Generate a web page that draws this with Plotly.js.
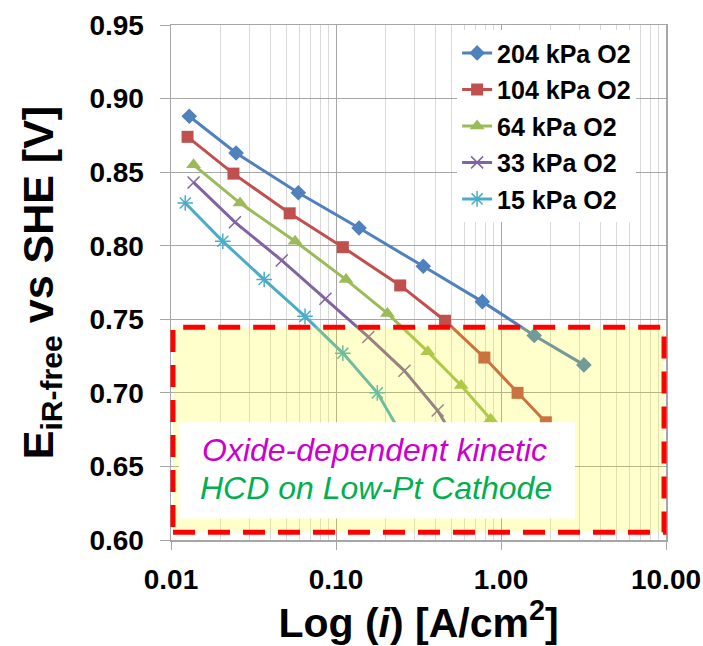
<!DOCTYPE html>
<html>
<head>
<meta charset="utf-8">
<script src="https://cdn.plot.ly/plotly-3.0.1.min.js"></script>
<style>html,body{margin:0;padding:0;background:#fff;}#chart{width:703px;height:646px;}</style>
</head>
<body>
<div id="chart"></div>
<script>
// ---- data ----
const seriesNames = ['204 kPa O2', '104 kPa O2', '64 kPa O2', '33 kPa O2', '15 kPa O2'];

const i204 = [0.0129, 0.0248, 0.0591, 0.138, 0.338, 0.771, 1.59, 3.18];
const e204 = [0.888, 0.863, 0.836, 0.812, 0.786, 0.762, 0.739, 0.719];

const i104 = [0.0126, 0.0239, 0.0524, 0.110, 0.245, 0.458, 0.793, 1.26, 1.87];
const e104 = [0.874, 0.849, 0.822, 0.799, 0.773, 0.749, 0.724, 0.700, 0.680];

const i64 = [0.0137, 0.0262, 0.0565, 0.115, 0.205, 0.360, 0.574, 0.866];
const e64 = [0.855, 0.829, 0.803, 0.777, 0.754, 0.728, 0.705, 0.682];

const i33 = [0.0137, 0.0244, 0.0469, 0.0863, 0.157, 0.260, 0.413, 0.62];
const e33 = [0.843, 0.816, 0.790, 0.764, 0.738, 0.715, 0.688, 0.655];

const i15 = [0.0122, 0.0206, 0.0367, 0.0649, 0.110, 0.178, 0.27];
const e15 = [0.829, 0.803, 0.777, 0.752, 0.727, 0.700, 0.665];

const xTickVals = [0.01, 0.1, 1, 10];
const xTickText = ['0.01', '0.10', '1.00', '10.00'];
const minorDigits = [2, 3, 4, 5, 6, 7, 8, 9];
const decades = [0.01, 0.1, 1];

const noteLine1 = 'Oxide-dependent kinetic';
const noteLine2 = 'HCD on Low-Pt Cathode';

// ---- styling ----
const colors = ['#4F81BD', '#C0504D', '#9BBB59', '#8064A2', '#4BACC6'];
const symbols = ['diamond', 'square', 'triangle-up', 'x-thin-open', 'asterisk-open'];
const sizes = [12, 12, 13, 12, 13];
const xs = [i204, i104, i64, i33, i15];
const ys = [e204, e104, e64, e33, e15];

const minorX = [];
decades.forEach(d => minorDigits.forEach(k => minorX.push(d * k)));

const FONT = 'Liberation Sans, Arial, sans-serif';

const traces = seriesNames.map((n, k) => ({
  x: xs[k], y: ys[k], name: n, type: 'scatter', mode: 'lines+markers',
  legendgroup: 'g' + k,
  line: {color: colors[k], width: 3},
  marker: {symbol: symbols[k], size: sizes[k], color: colors[k],
           line: {color: colors[k], width: (k >= 3 ? 1.5 : 0)}}
}));

const layout = {
  width: 703, height: 646,
  margin: {l: 171, r: 37, t: 25, b: 106},
  paper_bgcolor: '#ffffff', plot_bgcolor: '#ffffff',
  font: {family: FONT, color: '#000'},
  showlegend: true,
  legend: {x: 0.578, y: 0.99, xanchor: 'left', yanchor: 'top', bgcolor: '#ffffff',
           borderwidth: 0, tracegroupgap: 1,
           font: {family: FONT, size: 25, weight: 'bold', color: '#000'}},
  xaxis: {
    type: 'log', range: [-2, 1], tickmode: 'array', tickvals: xTickVals, ticktext: xTickText,
    showgrid: true, gridcolor: '#a6a6a6', gridwidth: 1,
    showline: true, linecolor: '#a6a6a6', linewidth: 1.5, mirror: true,
    ticks: 'outside', ticklen: 8, tickcolor: '#a6a6a6', ticklabelstandoff: 6,
    tickfont: {family: FONT, size: 28, weight: 'bold', color: '#000'},
    minor: {tickmode: 'array', tickvals: minorX, showgrid: true, gridcolor: '#d9d9d9', gridwidth: 1, ticks: ''},
    zeroline: false,
    title: {text: 'Log (<i>i</i>) [A/cm<sup>2</sup>]', standoff: 12,
            font: {family: FONT, size: 41, weight: 'bold', color: '#000'}}
  },
  yaxis: {
    range: [0.6, 0.95], dtick: 0.05, tick0: 0.6, tickformat: '.2f',
    showgrid: true, gridcolor: '#a6a6a6', gridwidth: 1,
    showline: true, linecolor: '#a6a6a6', linewidth: 1.5, mirror: true,
    ticks: 'outside', ticklen: 10, tickcolor: '#a6a6a6', ticklabelstandoff: 10,
    tickfont: {family: FONT, size: 28, weight: 'bold', color: '#000'},
    zeroline: false,
    title: {text: 'E<sub>iR-free</sub> vs SHE [V]', standoff: 22,
            font: {family: FONT, size: 43, weight: 'bold', color: '#000'}}
  },
  shapes: [
    {type: 'rect', layer: 'above', xref: 'paper', yref: 'y',
     x0: 0.004, x1: 0.996, y0: 0.6052, y1: 0.7446,
     fillcolor: 'rgba(255,255,0,0.2)',
     line: {color: '#FF0000', width: 5, dash: '22px,13px'}},
    {type: 'rect', layer: 'above', xref: 'paper', yref: 'y',
     x0: 0.016, x1: 0.816, y0: 0.6146, y1: 0.6801,
     fillcolor: '#ffffff', line: {width: 0}}
  ],
  annotations: [
    {xref: 'paper', yref: 'y', x: 0.412, y: 0.6615, xanchor: 'center', yanchor: 'middle',
     showarrow: false, text: '<i>' + noteLine1 + '</i>',
     font: {family: FONT, size: 32, color: '#CC00CC'}},
    {xref: 'paper', yref: 'y', x: 0.414, y: 0.6355, xanchor: 'center', yanchor: 'middle',
     showarrow: false, text: '<i>' + noteLine2 + '</i>',
     font: {family: FONT, size: 32, color: '#00B050'}}
  ]
};

Plotly.newPlot('chart', traces, layout, {displayModeBar: false, staticPlot: true});
</script>
</body>
</html>
